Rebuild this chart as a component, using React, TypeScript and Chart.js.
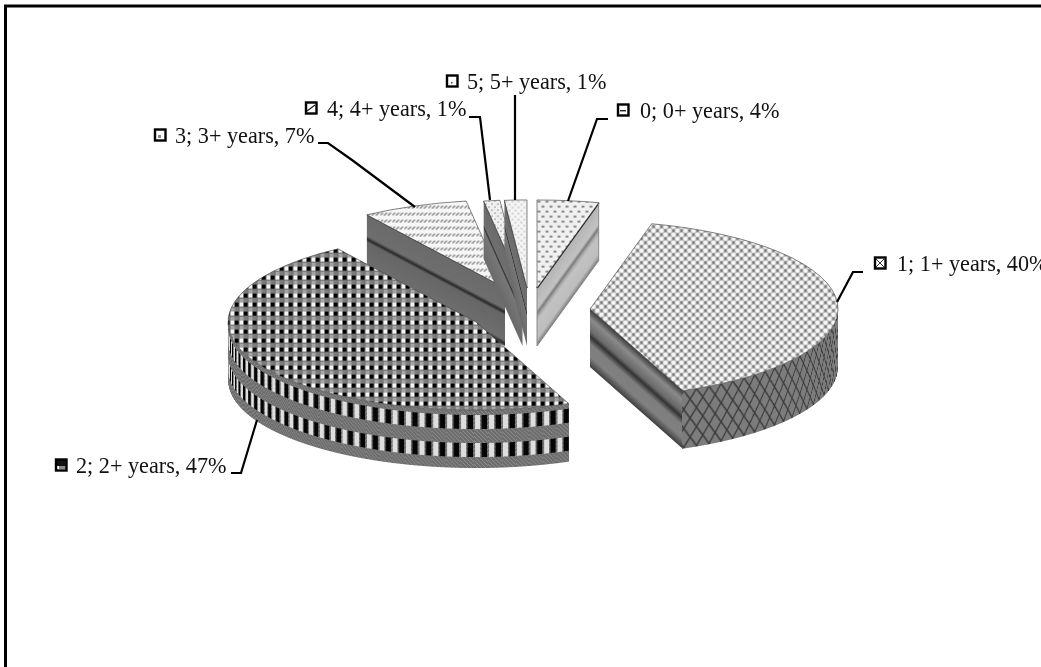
import React, { useEffect, useRef } from "react";
import { Chart, registerables } from "chart.js";

Chart.register(...registerables);

// ---- data ----
const categories = ["0", "1", "2", "3", "4", "5"];
const periods = ["0+ years", "1+ years", "2+ years", "3+ years", "4+ years", "5+ years"];
const shares = [4.0, 39.9, 46.7, 6.9, 1.05, 1.45];

// ---- layout / style (not data) ----
const W = 1041;
const H = 667;
const RADIUS = 248;
const TILT = 0.355;
const DEPTH = 58;
const EXPLODE: [number, number][] = [
  [16.5, -45.5],
  [69.5, -24.5],
  [-44.5, -11.5],
  [-15.5, -45.5],
  [2, -45.5],
  [6.5, -45.5],
];
const DRAW_ORDER = [3, 4, 5, 0, 2, 1];
const LABEL_POS: [number, number, number][] = [
  [617, 640, 112],
  [874, 897, 265],
  [55, 76, 467],
  [154, 175, 137],
  [305, 327, 110],
  [446, 467, 83],
];
const LEADERS: [number, number][][] = [
  [[608, 119], [597, 119], [568, 201]],
  [[863, 272], [853, 272], [837, 302]],
  [[231, 473], [241, 473], [257, 420]],
  [[318, 143], [328, 143], [352, 160], [415, 207]],
  [[469, 117], [480, 117], [490, 200]],
  [[515, 95], [515, 200]],
];
type Stop = [number, string];
const WALL_STOPS: Stop[][] = [
  [[0, "#b4b4b4"], [0.36, "#c2c2c2"], [0.44, "#7c7c7c"], [0.5, "#a8a8a8"], [0.58, "#c2c2c2"], [0.88, "#bdbdbd"], [1, "#7d7d7d"]],
  [[0, "#3c3c3c"], [0.16, "#8a8a8a"], [0.38, "#6a6a6a"], [0.47, "#333333"], [0.6, "#7e7e7e"], [0.82, "#808080"], [1, "#3e3e3e"]],
  [[0, "#555555"], [1, "#555555"]],
  [[0, "#6a6a6a"], [0.36, "#6e6e6e"], [0.42, "#2a2a2a"], [0.47, "#666666"], [0.9, "#6e6e6e"], [0.96, "#2a2a2a"], [1, "#5a5a5a"]],
  [[0, "#6a6a6a"], [0.4, "#707070"], [0.45, "#333333"], [0.5, "#777777"], [1, "#6a6a6a"]],
  [[0, "#6a6a6a"], [0.4, "#707070"], [0.45, "#333333"], [0.5, "#777777"], [1, "#6a6a6a"]],
];

function tile(w: number, h: number, paint: (c: CanvasRenderingContext2D) => void): HTMLCanvasElement {
  const t = document.createElement("canvas");
  t.width = w;
  t.height = h;
  paint(t.getContext("2d") as CanvasRenderingContext2D);
  return t;
}

const dotTile = () =>
  tile(8, 10, (c) => {
    c.fillStyle = "#f0f0f0";
    c.fillRect(0, 0, 8, 10);
    c.fillStyle = "#8a8a8a";
    c.fillRect(1, 1, 3, 2);
    c.fillRect(5, 6, 3, 2);
  });
const latticeTile = () =>
  tile(8, 8, (c) => {
    c.fillStyle = "#747474";
    c.fillRect(0, 0, 8, 8);
    c.fillStyle = "#f6f6f6";
    for (const [x, y] of [[0, 0], [8, 0], [0, 8], [8, 8], [4, 4]]) {
      c.beginPath();
      c.arc(x, y, 2.6, 0, Math.PI * 2);
      c.fill();
    }
  });
const checkTile = () =>
  tile(9, 9, (c) => {
    c.fillStyle = "#6a6a6a";
    c.fillRect(0, 0, 9, 9);
    c.fillStyle = "#000";
    c.fillRect(0, 0, 4, 4);
    c.fillStyle = "#f4f4f4";
    c.fillRect(5, 0, 4, 4);
    c.fillStyle = "#a4a4a4";
    c.fillRect(5, 5, 4, 4);
    c.fillStyle = "#7c7c7c";
    c.fillRect(0, 5, 4, 4);
  });
const hatchTile = () =>
  tile(12, 7, (c) => {
    c.fillStyle = "#f6f6f6";
    c.fillRect(0, 0, 12, 7);
    c.fillStyle = "#8a8a8a";
    for (let i = 0; i < 3; i++) {
      c.fillRect(i * 4 + 1, 1, 2, 1);
      c.fillRect(i * 4, 2, 2, 1);
      c.fillRect(i * 4 - 1, 3, 2, 1);
    }
  });
const sparseTile = () =>
  tile(6, 6, (c) => {
    c.fillStyle = "#efefef";
    c.fillRect(0, 0, 6, 6);
    c.fillStyle = "#a0a0a0";
    c.fillRect(0, 1, 2, 1);
    c.fillRect(3, 4, 2, 1);
  });
const paleTile = () =>
  tile(6, 6, (c) => {
    c.fillStyle = "#f4f4f4";
    c.fillRect(0, 0, 6, 6);
    c.fillStyle = "#d2d2d2";
    c.fillRect(1, 1, 2, 2);
    c.fillRect(4, 4, 2, 2);
  });
const diamondWall = () =>
  tile(14, 19, (c) => {
    c.fillStyle = "#7c7c7c";
    c.fillRect(0, 0, 14, 19);
    c.strokeStyle = "#3a3a3a";
    c.lineWidth = 1.6;
    c.beginPath();
    c.moveTo(-7, -9.5);
    c.lineTo(21, 28.5);
    c.moveTo(7, -9.5);
    c.lineTo(-7, 9.5);
    c.moveTo(21, -9.5);
    c.lineTo(-7, 28.5);
    c.moveTo(7, -9.5);
    c.lineTo(21, 9.5);
    c.moveTo(-7, 9.5);
    c.lineTo(7, 28.5);
    c.stroke();
  });
const dashWall = () =>
  tile(14, 60, (c) => {
    c.fillStyle = "#6c6c6c";
    c.fillRect(0, 0, 14, 60);
    c.strokeStyle = "#8e8e8e";
    c.lineWidth = 1;
    c.beginPath();
    for (let i = -60; i < 14; i += 4) {
      c.moveTo(i, 60);
      c.lineTo(i + 60, 0);
    }
    c.stroke();
    for (const y of [5, 33]) {
      c.fillStyle = "#050505";
      c.fillRect(1, y, 5.5, 14);
      c.fillStyle = "#dedede";
      c.fillRect(8, y, 5, 14);
    }
  });

const KEY_PAINT: ((c: CanvasRenderingContext2D, x: number, y: number) => void)[] = [
  (c, x, y) => {
    c.fillStyle = "#222";
    c.fillRect(x + 2, y + 5, 6, 1.4);
  },
  (c, x, y) => {
    c.strokeStyle = "#333";
    c.lineWidth = 1;
    c.beginPath();
    c.moveTo(x + 1, y + 1);
    c.lineTo(x + 9, y + 9);
    c.moveTo(x + 9, y + 1);
    c.lineTo(x + 1, y + 9);
    c.stroke();
  },
  (c, x, y) => {
    c.fillStyle = "#111";
    c.fillRect(x, y, 10, 6);
    c.fillStyle = "#888";
    c.fillRect(x + 3, y + 6, 7, 3);
  },
  (c, x, y) => {
    c.fillStyle = "#888";
    c.fillRect(x + 3, y + 5, 3, 3);
  },
  (c, x, y) => {
    c.strokeStyle = "#222";
    c.lineWidth = 1.4;
    c.beginPath();
    c.moveTo(x + 1, y + 8);
    c.lineTo(x + 9, y + 2);
    c.stroke();
  },
  (c, x, y) => {
    c.fillStyle = "#444";
    c.fillRect(x + 4, y + 6, 1.5, 1.5);
  },
];

export default function App() {
  const ref = useRef<HTMLCanvasElement | null>(null);

  useEffect(() => {
    const canvas = ref.current as HTMLCanvasElement;
    const ctx = canvas.getContext("2d") as CanvasRenderingContext2D;
    const total = shares.reduce((a, b) => a + b, 0);
    const unsquash = new DOMMatrix().scale(1, 1 / TILT);
    const tops = [dotTile(), latticeTile(), checkTile(), hatchTile(), sparseTile(), paleTile()].map((t) => {
      const p = ctx.createPattern(t, "repeat") as CanvasPattern;
      p.setTransform(unsquash);
      return p;
    });
    const arcWalls: (CanvasPattern | null)[] = [
      null,
      ctx.createPattern(diamondWall(), "repeat"),
      ctx.createPattern(dashWall(), "repeat"),
      null,
      null,
      null,
    ];

    const piePlugin = {
      id: "tiltedPie",
      beforeDatasetsDraw(chart: any) {
        const c: CanvasRenderingContext2D = chart.ctx;
        const arcs = chart.getDatasetMeta(0).data;

        for (const i of DRAW_ORDER) {
          const el = arcs[i];
          const rx: number = el.outerRadius;
          const ry = rx * TILT;
          const ax: number = el.x + EXPLODE[i][0];
          const ay: number = el.y + EXPLODE[i][1];
          const pointAt = (a: number): [number, number] => [ax + rx * Math.cos(a), ay + ry * Math.sin(a)];

          // straight side walls that face the viewer
          const faces: [number, number][] = [
            [el.startAngle, el.startAngle - Math.PI / 2],
            [el.endAngle, el.endAngle + Math.PI / 2],
          ];
          for (const [edge, normal] of faces) {
            if (Math.sin(normal) <= 0.01) continue;
            const [px, py] = pointAt(edge);
            const len = Math.hypot(px - ax, py - ay);
            const nx = -(py - ay) / len;
            const ny = (px - ax) / len;
            const h = DEPTH * ny;
            const g = c.createLinearGradient(ax, ay, ax + nx * h, ay + ny * h);
            for (const [o, col] of WALL_STOPS[i]) g.addColorStop(o, col);
            c.fillStyle = g;
            c.beginPath();
            c.moveTo(ax, ay);
            c.lineTo(px, py);
            c.lineTo(px, py + DEPTH);
            c.lineTo(ax, ay + DEPTH);
            c.closePath();
            c.fill();
            c.strokeStyle = i === 0 ? "#111" : "#333";
            c.lineWidth = i === 0 ? 2 : 1;
            c.beginPath();
            c.moveTo(ax, ay);
            c.lineTo(px, py);
            c.stroke();
            if (i !== 0) continue;
            c.strokeStyle = "#8a8a8a";
            c.lineWidth = 1;
            c.beginPath();
            c.moveTo(px, py);
            c.lineTo(px, py + DEPTH);
            c.lineTo(ax, ay + DEPTH);
            c.lineTo(ax, ay);
            c.stroke();
          }

          // curved outer wall, one pixel column at a time; the pattern is wrapped round the rim
          const wallPattern = arcWalls[i];
          const a0 = Math.max(el.startAngle, 0);
          const a1 = Math.min(el.endAngle, Math.PI);
          if (wallPattern && a1 > a0) {
            const xStart = Math.floor(pointAt(a1)[0]);
            const xEnd = Math.ceil(pointAt(a0)[0]);
            for (let x = xStart; x < xEnd; x++) {
              const s = Math.max(-1, Math.min(1, (x + 0.5 - ax) / rx));
              const y = ay + ry * Math.sqrt(1 - s * s);
              const u = rx * Math.acos(s);
              c.save();
              c.translate(x - u, y);
              c.fillStyle = wallPattern;
              c.fillRect(u, 0, 1, DEPTH);
              c.restore();
            }
          }

          // top face: the library's own arc element, squashed and moved
          c.save();
          c.translate(ax, ay);
          c.scale(1, TILT);
          c.translate(-el.x, -el.y);
          el.draw(c);
          c.restore();
        }
        return false;
      },
      afterDraw(chart: any) {
        const c: CanvasRenderingContext2D = chart.ctx;
        c.save();
        // frame
        c.strokeStyle = "#000";
        c.lineWidth = 3;
        c.beginPath();
        c.moveTo(5.5, H);
        c.lineTo(5.5, 6);
        c.lineTo(W, 6);
        c.stroke();
        // leader lines
        c.strokeStyle = "#000";
        c.lineWidth = 2.2;
        LEADERS.forEach((pts) => {
          c.beginPath();
          pts.forEach(([x, y], k) => (k ? c.lineTo(x, y) : c.moveTo(x, y)));
          c.stroke();
        });
        // labels with keys
        c.font = '22.2px "Liberation Serif"';
        c.textBaseline = "middle";
        c.textAlign = "left";
        categories.forEach((cat, i) => {
          const [kx, tx, cy] = LABEL_POS[i];
          const pct = Math.round((shares[i] / total) * 100);
          c.fillStyle = "#fff";
          c.fillRect(kx + 1, cy - 7, 10, 10);
          KEY_PAINT[i](c, kx + 1, cy - 7);
          c.strokeStyle = "#000";
          c.lineWidth = 2.4;
          c.strokeRect(kx + 1, cy - 7.5, 10.5, 11);
          c.fillStyle = "#111";
          c.fillText(`${cat}; ${periods[i]}, ${pct}%`, tx, cy);
        });
        c.restore();
      },
    };

    const chart = new Chart(canvas, {
      type: "pie",
      data: {
        labels: categories,
        datasets: [
          {
            data: shares,
            backgroundColor: tops,
            borderColor: "#4a4a4a",
            borderWidth: 1,
            radius: RADIUS,
          } as any,
        ],
      },
      options: {
        responsive: false,
        animation: false,
        layout: { padding: 0 },
        plugins: { legend: { display: false }, tooltip: { enabled: false } },
      },
      plugins: [piePlugin as any],
    });
    return () => chart.destroy();
  }, []);

  return (
    <div style={{ position: "absolute", left: 0, top: 0, width: W, height: H, overflow: "hidden", background: "#fff" }}>
      <canvas ref={ref} width={W} height={H} style={{ display: "block", filter: "blur(0.35px)" }} />
    </div>
  );
}
